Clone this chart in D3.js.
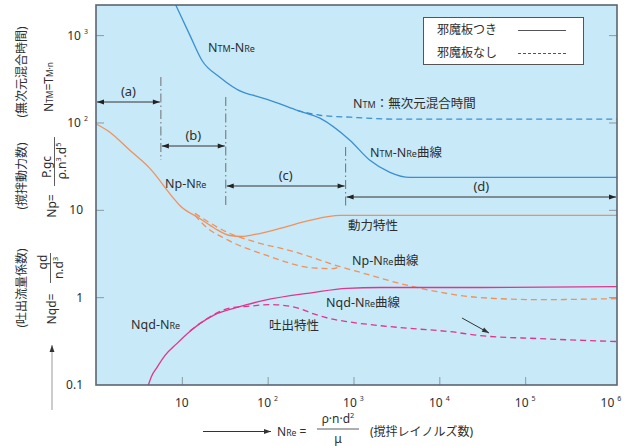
<!DOCTYPE html>
<html>
<head>
<meta charset="utf-8">
<script src="https://cdn.jsdelivr.net/npm/d3@7/dist/d3.min.js"></script>
<style>
  html, body { margin: 0; padding: 0; background: #ffffff; }
  svg { display: block; }
  text { font-family: "Noto Sans", "Noto Sans CJK JP", sans-serif; fill: #2e2e2e; }
</style>
</head>
<body>
<svg id="chart" width="634" height="446"></svg>
<script>
// Reynolds-number axis ticks and y-axis decades
const xTicks = [10, 1e2, 1e3, 1e4, 1e5, 1e6];
const xTickExp = ["", "2", "3", "4", "5", "6"];
const yTicks = [0.1, 1, 10, 1e2, 1e3];
const yTickBase = ["0.1", "1", "10", "10", "10"];
const yTickExp = ["", "", "", "2", "3"];

// NTM-NRe (mixing time), with baffles
const ntmSolidRe = [8.5, 12.4, 17.1, 27.7, 51.4, 67.3, 121, 219, 406, 908, 1552, 2655, 4540, 1.2e6];
const ntmSolidVal = [2208, 1000, 516, 330, 222, 205, 171, 138, 112, 62.5, 36.9, 26.9, 23.5, 23.5];
// NTM-NRe, without baffles
const ntmDashRe = [219, 406, 908, 3470, 1.2e6];
const ntmDashVal = [138, 121, 115, 109, 109];

// Np-NRe (power number), with baffles
const npSolidRe = [1.02, 1.45, 2.48, 4.24, 7.85, 9.48, 16.2, 24.3, 36.3, 50, 71, 139, 310, 695, 1.2e6];
const npSolidVal = [95.3, 77.3, 48, 29.8, 13.9, 11.2, 7.96, 6.12, 5.08, 4.95, 5.22, 6.12, 7.56, 8.62, 8.62];
// Np-NRe, without baffles (two branches)
const npDashARe = [14.2, 36.3, 74.8, 182, 695, 1100, 4930, 29700, 149000, 1.2e6];
const npDashAVal = [9.1, 5.36, 4.23, 3.42, 2.24, 1.97, 1.32, 0.99, 0.937, 0.963];
const npDashBRe = [14.2, 20.1, 30.1, 98, 337, 560, 695];
const npDashBVal = [8.63, 6.12, 4.82, 3.0, 2.16, 2.12, 2.24];

// Nqd-NRe (discharge coefficient), with baffles
const nqdSolidRe = [4.02, 4.47, 5.12, 6.34, 8.75, 12.4, 16.2, 24.3, 39.3, 57.2, 87.9, 336, 838, 2030, 29700, 1.2e6];
const nqdSolidVal = [0.095, 0.126, 0.156, 0.214, 0.294, 0.404, 0.498, 0.631, 0.739, 0.822, 0.914, 1.13, 1.26, 1.29, 1.29, 1.32];
// Nqd-NRe, without baffles
const nqdDashRe = [12.4, 18.5, 36.3, 62, 106, 159, 238, 337, 531, 838, 2030, 4920, 13300, 29700, 149000, 1.2e6];
const nqdDashVal = [0.41, 0.545, 0.75, 0.79, 0.822, 0.801, 0.74, 0.648, 0.568, 0.525, 0.472, 0.436, 0.403, 0.363, 0.335, 0.31];

// Flow-regime boundaries (NRe) for ranges (a)-(d)
const regimeBounds = [5.7, 32.5, 810];
const regimeLabels = ["(a)", "(b)", "(c)", "(d)"];

const svg = d3.select("#chart");
const plot = { left: 96, right: 617, top: 5, bottom: 385 };

const x = d3.scaleLog().domain([1, Math.pow(10, 6.07)]).range([plot.left, plot.right]);
const y = d3.scaleLog().domain([0.1, Math.pow(10, 3.345)]).range([384.5, plot.top]);

const C = { blue: "#3a8fd2", orange: "#f0915c", magenta: "#e0358d", bg: "#c8e9f8", frame: "#5b6570", tick: "#8c98a2" };

// plot background
svg.append("rect")
  .attr("x", plot.left).attr("y", plot.top)
  .attr("width", plot.right - plot.left).attr("height", plot.bottom - plot.top)
  .attr("fill", C.bg);

svg.append("clipPath").attr("id", "clip")
  .append("rect")
  .attr("x", plot.left).attr("y", plot.top)
  .attr("width", plot.right - plot.left).attr("height", plot.bottom - plot.top);

// decade ticks drawn inward on the frame
const tickLen = 8;
svg.append("g").attr("transform", `translate(0,${plot.bottom})`)
  .call(d3.axisBottom(x).tickValues(xTicks.slice(0, 5)).tickSize(-tickLen).tickFormat(""))
  .call(g => g.select(".domain").remove())
  .call(g => g.selectAll("line").attr("stroke", C.tick));
svg.append("g").attr("transform", `translate(${plot.left},0)`)
  .call(d3.axisLeft(y).tickValues(yTicks.slice(1)).tickSize(-tickLen).tickFormat(""))
  .call(g => g.select(".domain").remove())
  .call(g => g.selectAll("line").attr("stroke", C.tick));
svg.append("g").attr("transform", `translate(${plot.right},0)`)
  .call(d3.axisRight(y).tickValues(yTicks.slice(1)).tickSize(-tickLen).tickFormat(""))
  .call(g => g.select(".domain").remove())
  .call(g => g.selectAll("line").attr("stroke", C.tick));

// x tick labels
const xl = svg.append("g").attr("font-size", 12);
xTicks.forEach((v, i) => {
  const t = xl.append("text").attr("x", x(v)).attr("y", 407).attr("text-anchor", "middle");
  t.append("tspan").text("10");
  if (xTickExp[i]) t.append("tspan").attr("dx", 3).attr("dy", -6).attr("font-size", 7).text(xTickExp[i]);
});

// y tick labels
const yl = svg.append("g").attr("font-size", 12);
yTicks.forEach((v, i) => {
  const t = yl.append("text").attr("y", y(v) + 4.5).attr("text-anchor", "end")
    .attr("x", yTickExp[i] ? 88 : 83);
  t.append("tspan").text(yTickBase[i]);
  if (yTickExp[i]) t.append("tspan").attr("dx", 3).attr("dy", -6).attr("font-size", 7).text(yTickExp[i]);
});

// curves
const curves = svg.append("g").attr("clip-path", "url(#clip)").attr("fill", "none").attr("stroke-width", 1.3);
const line = d3.line().x(d => x(d[0])).y(d => y(d[1])).curve(d3.curveMonotoneX);
const zip = (a, b) => a.map((v, i) => [v, b[i]]);
function drawCurve(re, val, color, dashed) {
  curves.append("path")
    .attr("d", line(zip(re, val)))
    .attr("stroke", color)
    .attr("stroke-dasharray", dashed ? "6,4" : null);
}
drawCurve(ntmSolidRe, ntmSolidVal, C.blue, false);
drawCurve(ntmDashRe, ntmDashVal, C.blue, true);
drawCurve(npSolidRe, npSolidVal, C.orange, false);
drawCurve(npDashARe, npDashAVal, C.orange, true);
drawCurve(npDashBRe, npDashBVal, C.orange, true);
drawCurve(nqdSolidRe, nqdSolidVal, C.magenta, false);
drawCurve(nqdDashRe, nqdDashVal, C.magenta, true);

// arrowheads
const defs = svg.append("defs");
defs.append("marker").attr("id", "ah").attr("viewBox", "0 0 10 10")
  .attr("refX", 10).attr("refY", 5).attr("markerWidth", 9).attr("markerHeight", 7)
  .attr("markerUnits", "userSpaceOnUse").attr("orient", "auto-start-reverse")
  .append("path").attr("d", "M0,1.5 L10,5 L0,8.5 Z").attr("fill", "#222");
defs.append("marker").attr("id", "ahg").attr("viewBox", "0 0 10 10")
  .attr("refX", 10).attr("refY", 5).attr("markerWidth", 8).attr("markerHeight", 7)
  .attr("markerUnits", "userSpaceOnUse").attr("orient", "auto")
  .append("path").attr("d", "M0,1.5 L10,5 L0,8.5 Z").attr("fill", "#333");

// regime boundaries (dash-dot) and range arrows
const ann = svg.append("g");
const vlines = [
  { re: regimeBounds[0], y1: 77, y2: 160 },
  { re: regimeBounds[1], y1: 97, y2: 207 },
  { re: regimeBounds[2], y1: 147, y2: 206 }
];
vlines.forEach(v => {
  ann.append("line").attr("x1", x(v.re)).attr("x2", x(v.re)).attr("y1", v.y1).attr("y2", v.y2)
    .attr("stroke", "#6f6f6f").attr("stroke-width", 1).attr("stroke-dasharray", "9,3,1.5,3");
});
const ranges = [
  { a: 1, b: regimeBounds[0], y: 102 },
  { a: regimeBounds[0], b: regimeBounds[1], y: 146 },
  { a: regimeBounds[1], b: regimeBounds[2], y: 186 },
  { a: regimeBounds[2], b: Math.pow(10, 6.07), y: 197 }
];
ranges.forEach((r, i) => {
  const x1 = x(r.a) + 1, x2 = x(r.b) - 1;
  ann.append("line").attr("x1", x1).attr("x2", x2).attr("y1", r.y).attr("y2", r.y)
    .attr("stroke", "#333").attr("stroke-width", 1)
    .attr("marker-start", "url(#ah)").attr("marker-end", "url(#ah)");
  ann.append("text").attr("x", (x1 + x2) / 2).attr("y", r.y - 6).attr("text-anchor", "middle")
    .attr("font-size", 13).text(regimeLabels[i]);
});

// discharge arrow
ann.append("line").attr("x1", 462).attr("y1", 318).attr("x2", 489).attr("y2", 333)
  .attr("stroke", "#333").attr("stroke-width", 1).attr("marker-end", "url(#ahg)");

// curve labels (N with small subscript-style letters)
function label(xp, yp, parts, size) {
  const t = svg.append("text").attr("x", xp).attr("y", yp).attr("font-size", size || 12.5);
  parts.forEach(p => {
    const s = t.append("tspan").text(p[0]);
    if (p[1]) s.attr("font-size", (size || 12.5) * 0.72);
  });
  return t;
}
label(208, 52, [["N"], ["TM", 1], ["-N"], ["Re", 1]]);
label(353, 108, [["N"], ["TM", 1], ["：無次元混合時間"]]);
label(370, 157, [["N"], ["TM", 1], ["-N"], ["Re", 1], ["曲線"]]);
label(165, 188, [["Np-N"], ["Re", 1]]);
label(348, 230, [["動力特性"]]);
label(352, 265, [["Np-N"], ["Re", 1], ["曲線"]]);
label(326, 307, [["Nqd-N"], ["Re", 1], ["曲線"]]);
label(269, 330, [["吐出特性"]]);
label(131, 329, [["Nqd-N"], ["Re", 1]]);

// legend
const lg = svg.append("g");
lg.append("rect").attr("x", 423.5).attr("y", 17.5).attr("width", 160).attr("height", 47)
  .attr("fill", "#ffffff").attr("stroke", "#555").attr("stroke-width", 1);
lg.append("text").attr("x", 437).attr("y", 34).attr("font-size", 12).text("邪魔板つき");
lg.append("text").attr("x", 437).attr("y", 57).attr("font-size", 12).text("邪魔板なし");
lg.append("line").attr("x1", 518).attr("x2", 566).attr("y1", 30.5).attr("y2", 30.5)
  .attr("stroke", "#555").attr("stroke-width", 1);
lg.append("line").attr("x1", 518).attr("x2", 566).attr("y1", 53.5).attr("y2", 53.5)
  .attr("stroke", "#555").attr("stroke-width", 1).attr("stroke-dasharray", "3,2");

// frame
svg.append("rect")
  .attr("x", plot.left).attr("y", plot.top)
  .attr("width", plot.right - plot.left).attr("height", plot.bottom - plot.top)
  .attr("fill", "none").attr("stroke", C.frame).attr("stroke-width", 1.6);

// rotated y-axis titles
function vtext(xp, yp, parts, size) {
  const t = svg.append("text").attr("transform", `translate(${xp},${yp}) rotate(-90)`)
    .attr("text-anchor", "middle").attr("font-size", size || 12);
  parts.forEach(p => {
    const s = t.append("tspan").text(p[0]);
    if (p[1] === 1) s.attr("font-size", (size || 12) * 0.7);
    if (p[1] === 2) s.attr("font-size", (size || 12) * 0.6).attr("dy", -5);
    if (p[1] === 3) s.attr("dy", 5);
  });
}
function vbar(xp, y1, y2) {
  svg.append("line").attr("x1", xp).attr("x2", xp).attr("y1", y1).attr("y2", y2)
    .attr("stroke", "#333").attr("stroke-width", 0.8);
}
vtext(26, 72, [["(無次元混合時間)"]]);
vtext(53, 87, [["N"], ["TM", 1], ["=T"], ["M·n", 1]]);

vtext(26, 176, [["(撹拌動力数)"]]);
vtext(56, 206, [["Np="]]);
vtext(51, 167, [["P.gc"]]);
vbar(54.5, 137, 186);
vtext(66, 161, [["ρ.n"], ["3", 2], [".d", 3], ["5", 2]]);

vtext(26, 288, [["(吐出流量係数)"]]);
vtext(56, 309, [["Nqd="]]);
vtext(47, 262, [["qd"]]);
vbar(50.5, 253, 283);
vtext(63, 268, [["n.d"], ["3", 2]]);

// up arrow beside y titles
svg.append("line").attr("x1", 52).attr("x2", 52).attr("y1", 410).attr("y2", 345)
  .attr("stroke", "#999").attr("stroke-width", 1).attr("marker-end", "url(#ahg)");

// x-axis title
svg.append("line").attr("x1", 203).attr("x2", 271).attr("y1", 431.5).attr("y2", 431.5)
  .attr("stroke", "#333").attr("stroke-width", 1).attr("marker-end", "url(#ahg)");
label(277, 436, [["N"], ["Re", 1], [" ="]], 12);
const num = svg.append("text").attr("x", 338).attr("y", 423).attr("text-anchor", "middle").attr("font-size", 12);
num.append("tspan").text("ρ·n·d");
num.append("tspan").attr("dy", -5).attr("font-size", 7.5).text("2");
svg.append("line").attr("x1", 317).attr("x2", 359).attr("y1", 429).attr("y2", 429)
  .attr("stroke", "#333").attr("stroke-width", 0.8);
svg.append("text").attr("x", 338).attr("y", 443).attr("text-anchor", "middle").attr("font-size", 12).text("μ");
svg.append("text").attr("x", 370).attr("y", 436).attr("font-size", 12).text("(撹拌レイノルズ数)");
</script>
</body>
</html>
